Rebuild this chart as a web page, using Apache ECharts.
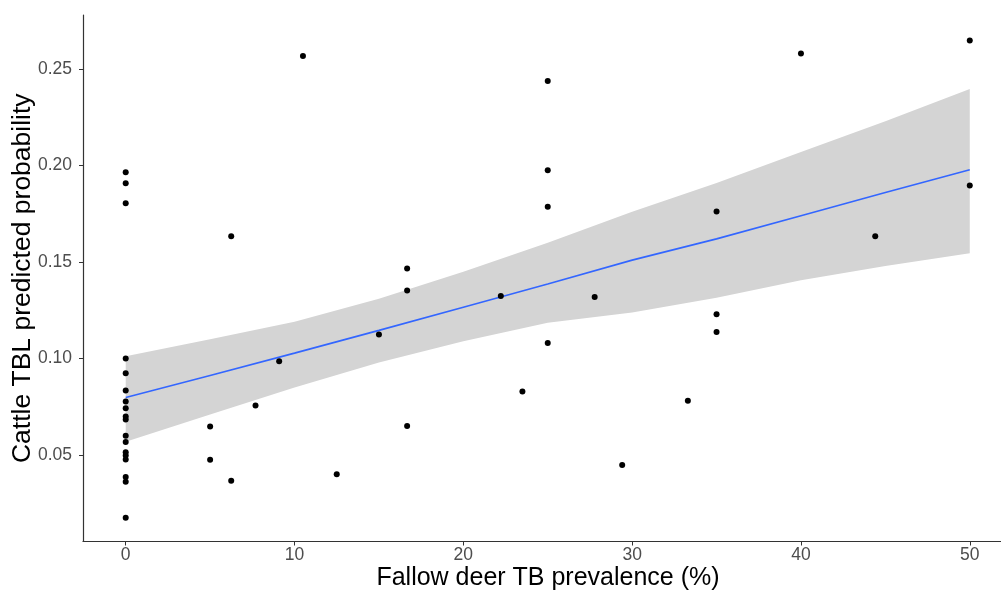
<!DOCTYPE html>
<html>
<head>
<meta charset="utf-8">
<script src="https://cdn.jsdelivr.net/npm/echarts@6/dist/echarts.min.js"></script>
<style>
html,body{margin:0;padding:0;background:#fff;}
#chart{width:1001px;height:592px;}
</style>
</head>
<body>
<div id="chart"></div>
<script>
// Observed points: deer TB prevalence (%) vs cattle TBL predicted probability
const pointsX = [
  0,0,0,0,0,0,0,0,0,0,0,0,0,0,0,0,0,0,
  10.5,25,25,25,6.25,16.67,16.67,22.22,27.78,15,9.09,25,23.5,7.69,5,16.67,5,6.25,12.5,29.41,
  40,50,35,50,44.4,35,35,33.3
];
const pointsY = [
  0.1965,0.1908,0.1805,0.1000,0.0924,0.0834,0.0778,0.0743,0.0700,0.0684,0.0600,0.0567,0.0515,0.0498,0.0477,0.0386,0.0362,0.0175,
  0.2568,0.2438,0.1976,0.1786,0.1633,0.1467,0.1352,0.1324,0.1319,0.1124,0.0986,0.1081,0.0829,0.0757,0.0648,0.0651,0.0475,0.0367,0.0400,0.0448,
  0.2581,0.2648,0.1762,0.1897,0.1634,0.1229,0.1138,0.0781
];
// Fitted trend and confidence band
const fitX     = [0, 5, 10, 15, 20, 25, 30, 35, 40, 45, 50];
const fitY     = [0.0798,0.0912,0.1028,0.1146,0.1266,0.1386,0.1510,0.1620,0.1740,0.1860,0.1978];
const bandUpper= [0.1012,0.1100,0.1190,0.1310,0.1450,0.1600,0.1760,0.1910,0.2070,0.2230,0.2397];
const bandLower= [0.0569,0.0710,0.0850,0.0980,0.1090,0.1185,0.1238,0.1315,0.1405,0.1480,0.1546];
// Axis ticks
const xTicks = [0, 10, 20, 30, 40, 50];
const yTicks = [0.05, 0.10, 0.15, 0.20, 0.25];

const chart = echarts.init(document.getElementById('chart'));
const scatterData = pointsX.map((x, i) => [x, pointsY[i]]);
const fitData = fitX.map((x, i) => [x, fitY[i]]);
const bandData = fitX.map((x, i) => [x, bandLower[i], bandUpper[i]]);

const tickLabel = {fontFamily: 'Liberation Sans', fontSize: 17.5, color: '#4D4D4D'};

chart.setOption({
  animation: false,
  backgroundColor: '#fff',
  grid: {left: 83, right: 0, top: 15, bottom: 50.5, containLabel: false, outerBoundsMode: 'none'},
  xAxis: {
    type: 'value', min: -2.53, max: 51.85,
    name: 'Fallow deer TB prevalence (%)', nameLocation: 'middle', nameGap: 24, nameMoveOverlap: false,
    nameTextStyle: {fontFamily: 'Liberation Sans', fontSize: 25, color: '#000', padding: [0, 0, 0, 12]},
    axisLine: {show: true, onZero: false, lineStyle: {color: '#333', width: 1.2}},
    axisTick: {show: true, length: 4, lineStyle: {color: '#333'}, customValues: xTicks},
    axisLabel: Object.assign({margin: 5, customValues: xTicks, formatter: v => String(v)}, tickLabel),
    splitLine: {show: false}
  },
  yAxis: {
    type: 'value', min: 0.0052, max: 0.278,
    name: 'Cattle TBL predicted probability', nameLocation: 'middle', nameGap: 47, nameMoveOverlap: false,
    nameTextStyle: {fontFamily: 'Liberation Sans', fontSize: 26.5, color: '#000'},
    axisLine: {show: true, onZero: false, lineStyle: {color: '#333', width: 1.2}},
    axisTick: {show: true, length: 4, lineStyle: {color: '#333'}, customValues: yTicks},
    axisLabel: Object.assign({margin: 11, customValues: yTicks, formatter: v => v.toFixed(2)}, tickLabel),
    splitLine: {show: false}
  },
  series: [
    {
      type: 'custom',
      data: bandData,
      z: 1,
      silent: true,
      clip: true,
      renderItem: function (params, api) {
        if (params.dataIndex !== 0) return null;
        const pts = [];
        for (let i = 0; i < bandData.length; i++) pts.push(api.coord([bandData[i][0], bandData[i][2]]));
        for (let i = bandData.length - 1; i >= 0; i--) pts.push(api.coord([bandData[i][0], bandData[i][1]]));
        return {type: 'polygon', shape: {points: pts}, style: {fill: '#D4D4D4'}};
      }
    },
    {
      type: 'line', data: fitData, showSymbol: false, z: 2, silent: true,
      lineStyle: {color: '#3366FF', width: 1.6}
    },
    {
      type: 'scatter', data: scatterData, symbolSize: 6, z: 3,
      itemStyle: {color: '#000', opacity: 1}
    }
  ]
});
</script>
</body>
</html>
